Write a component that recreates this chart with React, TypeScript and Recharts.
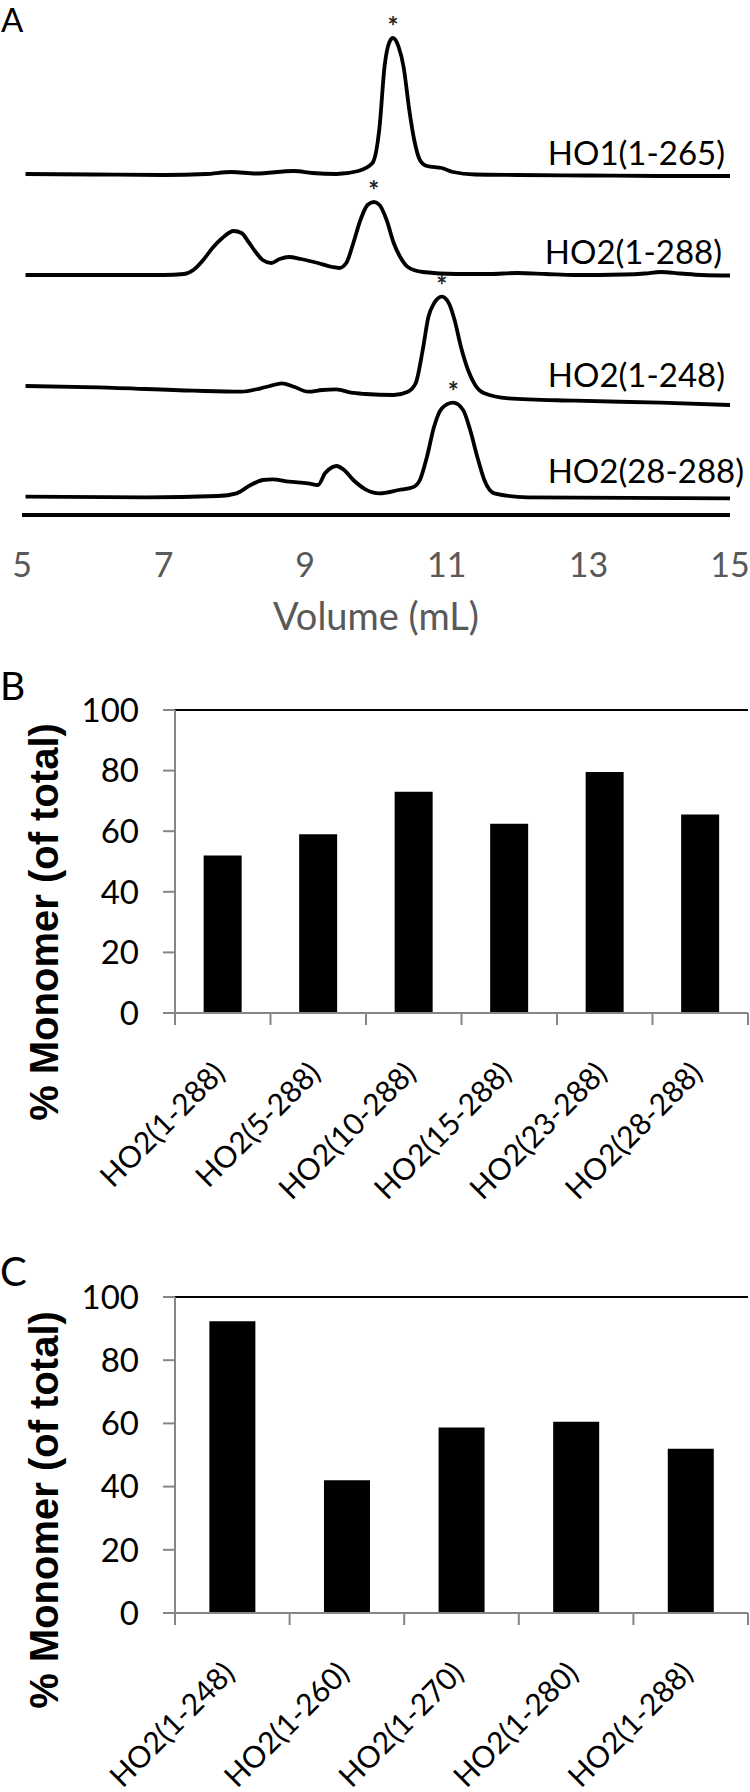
import React from 'react';
import { LineChart, Line, XAxis, YAxis, BarChart, Bar, ReferenceLine } from 'recharts';

const FONT = 'Lato, "Open Sans", sans-serif';
const GRAY_AXIS = '#868686';

// Panel A: elution traces, volume (mL) vs absorbance (arbitrary units above each baseline)
const volumeTicks = [5, 7, 9, 11, 13, 15];

const ho1Vol = [5.05, 6.0, 7.0, 7.6, 7.96, 8.3, 8.84, 9.1, 9.44, 9.75, 9.95, 10.05, 10.12, 10.19, 10.24, 10.32, 10.39, 10.47, 10.54, 10.62, 10.72, 10.93, 11.09, 11.4, 12.0, 13.0, 14.0, 15.0];
const ho1Abs = [1, 0.5, 0, 1, 3, 1.5, 4, 2, 1, 4, 12, 48, 108, 133, 137, 128, 108, 65, 35, 15, 9, 7, 3, 0.5, 0, -0.5, -1, -1];

const ho2FullVol = [5.05, 6.0, 7.0, 7.29, 7.42, 7.56, 7.69, 7.83, 7.99, 8.1, 8.2, 8.3, 8.4, 8.52, 8.64, 8.77, 8.94, 9.18, 9.38, 9.48, 9.58, 9.68, 9.78, 9.88, 9.97, 10.05, 10.15, 10.25, 10.35, 10.45, 10.66, 11.13, 11.6, 12.0, 12.4, 12.8, 13.5, 13.8, 14.02, 14.3, 14.6, 15.0];
const ho2FullAbs = [0, 0, 0, 1, 5, 15, 27, 37, 44, 42, 33, 23, 15, 12, 16, 18, 16, 12, 8, 7, 12, 32, 55, 70, 73, 70, 55, 32, 17, 8, 3, 1, 1, 2, 1, 0, 0.5, 1.5, 3, 1.5, 0, -0.5];

const ho2ShortVol = [5.05, 6.08, 7.42, 8.1, 8.37, 8.5, 8.67, 8.84, 9.04, 9.24, 9.44, 9.65, 9.85, 10.25, 10.45, 10.56, 10.66, 10.74, 10.82, 10.93, 11.03, 11.11, 11.2, 11.3, 11.4, 11.53, 11.87, 12.81, 14.02, 15.0];
const ho2ShortAbs = [14, 12.7, 9.3, 8.3, 11.7, 14, 16.7, 13.3, 8.3, 10, 10.7, 7.3, 6, 5, 8.3, 16.7, 50, 83, 96.7, 103.3, 96.7, 80, 53, 30, 15, 6.7, 1.7, -0.7, -2.7, -5];

const ho2NtermVol = [5.05, 6.75, 7.76, 8.03, 8.23, 8.4, 8.54, 8.77, 9.04, 9.18, 9.28, 9.38, 9.44, 9.55, 9.68, 9.85, 10.05, 10.32, 10.52, 10.62, 10.72, 10.82, 10.93, 11.09, 11.23, 11.33, 11.43, 11.53, 11.67, 12.14, 15.0];
const ho2NtermAbs = [0.3, -0.3, 1, 3.7, 12, 17, 17.7, 15.3, 13.7, 12, 23.7, 29.7, 31, 27, 17, 7.7, 3.7, 7, 9.7, 17, 40.3, 70.3, 88.7, 94.3, 87, 67, 40.3, 17, 3.7, -0.3, -1.3];

const traceNames = ['HO1(1-265)', 'HO2(1-288)', 'HO2(1-248)', 'HO2(28-288)'];
// how far each trace is lifted above the x axis (stacked display)
const traceOffsets = [340, 240, 115, 18];
// where each name sits relative to the trace end
const labelShift = [
  { dx: -5, dy: -11 },
  { dx: -8, dy: -12 },
  { dx: -5, dy: -18 },
  { dx: 14, dy: -15 },
];

// Panel B: N-terminal truncations
const nTermNames = ['HO2(1-288)', 'HO2(5-288)', 'HO2(10-288)', 'HO2(15-288)', 'HO2(23-288)', 'HO2(28-288)'];
const nTermMonomer = [52, 59, 73, 62.5, 79.5, 65.5];

// Panel C: C-terminal truncations
const cTermNames = ['HO2(1-248)', 'HO2(1-260)', 'HO2(1-270)', 'HO2(1-280)', 'HO2(1-288)'];
const cTermMonomer = [92.3, 42, 58.7, 60.5, 52];

const percentTicks = [0, 20, 40, 60, 80, 100];

const rawTraces = [
  [ho1Vol, ho1Abs],
  [ho2FullVol, ho2FullAbs],
  [ho2ShortVol, ho2ShortAbs],
  [ho2NtermVol, ho2NtermAbs],
];

const traces = rawTraces.map(([vol, abs], i) =>
  vol.map((v, j) => ({ x: v, y: abs[j] + traceOffsets[i] }))
);
const peakIndex = rawTraces.map(([, abs]) => abs.indexOf(Math.max(...abs)));

const traceLabel = (traceIdx: number) => (props: any) => {
  const { x, y, index } = props;
  if (index === peakIndex[traceIdx]) {
    return (
      <text key={`s${index}`} x={x} y={y - 2} textAnchor="middle" fontSize={26} fontWeight="bold" fontFamily={FONT} fill="#222">
        *
      </text>
    );
  }
  if (index === traces[traceIdx].length - 1) {
    const s = labelShift[traceIdx];
    return (
      <text key={`n${index}`} x={x + s.dx} y={y + s.dy} textAnchor="end" fontSize={33} fontFamily={FONT} fill="#000">
        {traceNames[traceIdx]}
      </text>
    );
  }
  return <g key={`e${index}`} />;
};

const CategoryTick = (props: any) => {
  const { x, y, payload, index, visibleTicksCount, width } = props;
  const count = visibleTicksCount || 1;
  const half = (width || 573) / count / 2;
  const tx = x + 4;
  const ty = y + 62;
  return (
    <g>
      <line x1={x - half} y1={y} x2={x - half} y2={y + 12} stroke={GRAY_AXIS} strokeWidth={2} />
      {index === count - 1 && (
        <line x1={x + half} y1={y} x2={x + half} y2={y + 12} stroke={GRAY_AXIS} strokeWidth={2} />
      )}
      <text x={tx} y={ty} transform={`rotate(-45 ${tx} ${ty})`} textAnchor="end" fontSize={30} fontFamily={FONT} fill="#000">
        {payload.value}
      </text>
    </g>
  );
};

interface MonomerPanelProps {
  names: string[];
  values: number[];
  top: number;
  height: number;
  marginTop: number;
  marginBottom: number;
  axisHeight: number;
  labelY: number;
}

const MonomerPanel: React.FC<MonomerPanelProps> = ({ names, values, top, height, marginTop, marginBottom, axisHeight, labelY }) => {
  const data = names.map((name, i) => ({ name, value: values[i] }));
  return (
    <div style={{ position: 'absolute', left: 0, top }}>
      <BarChart width={750} height={height} data={data} margin={{ top: marginTop, right: 2, left: 0, bottom: marginBottom }} barCategoryGap="30%">
        <XAxis
          dataKey="name"
          interval={0}
          height={axisHeight}
          axisLine={{ stroke: GRAY_AXIS, strokeWidth: 2 }}
          tickLine={false}
          tickSize={0}
          tickMargin={0}
          tick={<CategoryTick />}
        />
        <YAxis
          width={175}
          domain={[0, 100]}
          ticks={percentTicks}
          axisLine={{ stroke: GRAY_AXIS, strokeWidth: 2 }}
          tickLine={{ stroke: GRAY_AXIS, strokeWidth: 2 }}
          tickSize={12}
          tickMargin={24}
          tick={{ fill: '#000', fontSize: 33, fontFamily: FONT }}
          label={{
            content: () => (
              <text
                x={58}
                y={labelY}
                transform={`rotate(-90 58 ${labelY})`}
                textAnchor="middle"
                fontSize={40}
                fontWeight="bold"
                fontFamily='"Liberation Sans", Arial, sans-serif'
                fill="#000"
              >
                % Monomer (of total)
              </text>
            ),
          }}
        />
        <YAxis
          yAxisId="frame"
          orientation="right"
          width={0}
          domain={[0, 100]}
          tick={false}
          tickLine={false}
          axisLine={{ stroke: '#000', strokeWidth: 2 }}
        />
        <ReferenceLine y={100} stroke="#000" strokeWidth={2} />
        <Bar dataKey="value" fill="#000" isAnimationActive={false} />
      </BarChart>
    </div>
  );
};

const letterStyle: React.CSSProperties = {
  position: 'absolute',
  fontFamily: FONT,
  lineHeight: 1.2,
  color: '#000',
};

export default function App() {
  return (
    <div style={{ position: 'absolute', left: 0, top: 0, width: 750, height: 1792, background: '#fff', overflow: 'hidden' }}>
      <div style={{ ...letterStyle, left: 1, top: 0, fontSize: 33 }}>A</div>
      <div style={{ ...letterStyle, left: 0, top: 662, fontSize: 39 }}>B</div>
      <div style={{ ...letterStyle, left: 0, top: 1247, fontSize: 40 }}>C</div>

      <div style={{ position: 'absolute', left: 0, top: 0 }}>
        <LineChart width={750} height={640} margin={{ top: 15, right: 20, left: 22, bottom: 0 }}>
          <XAxis
            type="number"
            dataKey="x"
            domain={[5, 15]}
            ticks={volumeTicks}
            height={125}
            axisLine={{ stroke: '#000', strokeWidth: 4 }}
            tickLine={false}
            tickSize={0}
            tickMargin={38}
            tick={{ fill: '#595959', fontSize: 34, fontFamily: FONT }}
            label={{ value: 'Volume (mL)', position: 'insideBottom', offset: 10, fill: '#595959', fontSize: 38, fontFamily: FONT }}
          />
          <YAxis hide type="number" domain={[0, 500]} />
          {traces.map((pts, i) => (
            <Line
              key={traceNames[i]}
              data={pts}
              dataKey="y"
              type="monotone"
              stroke="#000"
              strokeWidth={3.8}
              dot={false}
              isAnimationActive={false}
              label={traceLabel(i)}
            />
          ))}
        </LineChart>
      </div>

      <MonomerPanel names={nTermNames} values={nTermMonomer} top={660} height={600} marginTop={50} marginBottom={60} axisHeight={187} labelY={262} />
      <MonomerPanel names={cTermNames} values={cTermMonomer} top={1240} height={552} marginTop={57} marginBottom={0} axisHeight={179} labelY={270} />
    </div>
  );
}
